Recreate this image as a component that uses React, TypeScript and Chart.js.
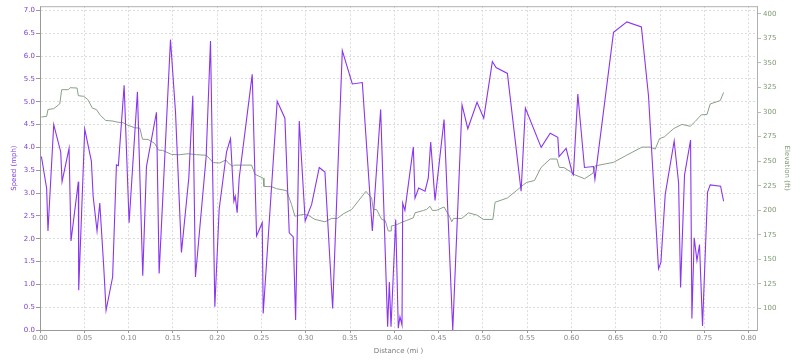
import React, { useEffect, useRef } from "react";
import { Chart, registerables } from "chart.js";

Chart.register(...registerables);

const speedDist = [
  0.0016, 0.0075, 0.009, 0.0155, 0.0234, 0.0249, 0.0328, 0.035, 0.0433, 0.0437,
  0.0505, 0.058, 0.06, 0.0644, 0.0675, 0.072, 0.0746, 0.082, 0.0863, 0.0885,
  0.095, 0.1006, 0.11, 0.116, 0.1202, 0.1315, 0.1345, 0.1473, 0.153, 0.1597,
  0.168, 0.1725, 0.1755, 0.1876, 0.1925, 0.1974, 0.2023, 0.2106, 0.2151, 0.2189,
  0.2204, 0.2226, 0.2249, 0.2396, 0.2445, 0.2509, 0.252, 0.2678, 0.2765, 0.2814,
  0.2859, 0.2886, 0.2927, 0.2994, 0.3067, 0.3153, 0.3217, 0.3304, 0.3413, 0.3526,
  0.3639, 0.3752, 0.3846, 0.3925, 0.3944, 0.3963, 0.4016, 0.4045, 0.4064, 0.4087,
  0.4095, 0.412, 0.4215, 0.4234, 0.4275, 0.4347, 0.4384, 0.4411, 0.446, 0.4562,
  0.466, 0.4765, 0.483, 0.4934, 0.501, 0.5107, 0.5149, 0.5277, 0.5432, 0.548,
  0.5658, 0.576, 0.5846, 0.586, 0.594, 0.6011, 0.6022, 0.6072, 0.6147, 0.6249,
  0.6265, 0.6475, 0.6626, 0.679, 0.687, 0.6983, 0.701, 0.7059, 0.716, 0.721,
  0.7232, 0.7277, 0.7345, 0.736, 0.7386, 0.7417, 0.7446, 0.748, 0.7537, 0.7567,
  0.7684, 0.7718,
];

const speedMph = [
  3.8, 3.1, 2.17, 4.5, 3.9, 3.25, 3.98, 1.95, 3.25, 0.87,
  4.4, 3.7, 2.93, 2.17, 2.78, 1.37, 0.43, 1.16, 3.62, 3.6,
  5.36, 2.35, 5.22, 1.19, 3.58, 4.77, 1.24, 6.36, 4.77, 1.7,
  3.33, 5.13, 1.16, 3.8, 6.33, 0.51, 2.65, 3.9, 4.19, 2.82,
  2.93, 2.57, 3.33, 5.6, 2.06, 2.35, 0.36, 5.01, 4.64, 2.13,
  2.04, 0.22, 4.58, 2.39, 2.75, 3.56, 3.46, 0.47, 6.12, 5.39,
  5.42, 2.17, 4.83, 0.07, 1.05, 0.07, 2.42, 0.04, 0.29, 0.11,
  2.78, 2.62, 4.01, 2.89, 3.11, 3.04, 3.33, 4.12, 2.84, 4.61,
  0.0, 4.93, 4.41, 4.99, 4.64, 5.88, 5.75, 5.62, 3.04, 4.86,
  4.0, 4.31, 4.22, 3.8, 3.98, 3.43, 3.4, 5.17, 3.56, 3.58,
  3.3, 6.52, 6.75, 6.64, 5.13, 1.34, 1.48, 2.97, 4.14, 3.22,
  0.93, 3.4, 4.16, 0.25, 2.02, 1.52, 1.87, 0.09, 3.02, 3.18,
  3.15, 2.82,
];

const elevDist = [
  0.0016, 0.0075, 0.009, 0.0155, 0.0223, 0.0245, 0.032, 0.034, 0.0418, 0.0433,
  0.0494, 0.054, 0.0592, 0.0637, 0.0682, 0.0742, 0.0825, 0.087, 0.0938, 0.0994,
  0.107, 0.1127, 0.1157, 0.122, 0.1296, 0.1338, 0.1383, 0.1485, 0.157, 0.1673,
  0.1767, 0.188, 0.1955, 0.203, 0.2098, 0.2136, 0.218, 0.2192, 0.2389, 0.2426,
  0.252, 0.2528, 0.2615, 0.2671, 0.2784, 0.284, 0.2878, 0.2972, 0.3028, 0.3104,
  0.3217, 0.3292, 0.3356, 0.3424, 0.3518, 0.3612, 0.368, 0.3744, 0.3763, 0.38,
  0.3858, 0.3898, 0.3932, 0.3963, 0.3966, 0.4018, 0.4057, 0.4091, 0.414, 0.4215,
  0.4234, 0.4328, 0.4366, 0.4403, 0.443, 0.4479, 0.4562, 0.463, 0.4649, 0.4668,
  0.4762, 0.4837, 0.4932, 0.5007, 0.5113, 0.5138, 0.5277, 0.5383, 0.5458, 0.5496,
  0.5582, 0.5658, 0.576, 0.5836, 0.5862, 0.5915, 0.5986, 0.6023, 0.6147, 0.6242,
  0.6268, 0.6475, 0.6626, 0.6796, 0.689, 0.6946, 0.6995, 0.7048, 0.7153, 0.7248,
  0.7342, 0.7398, 0.7466, 0.753, 0.7567, 0.768, 0.7718,
];

const elevFt = [
  295, 295.6, 302.6, 303.5, 308.3, 322.8, 322.8, 324.8, 324.5, 316.7,
  316, 312.7, 304, 302.6, 296.6, 291.5, 290.8, 289.8, 289.2, 286.5,
  284, 283.7, 272.4, 272.1, 268, 261.3, 261, 256.9, 256.5, 257.6,
  256.6, 256, 248.5, 248.2, 251.2, 247.2, 244.8, 246, 246, 236.7,
  232.7, 224.3, 224, 222, 220, 205.8, 194, 195.8, 195, 190.7,
  188.3, 191.7, 191.7, 196.4, 200.8, 211.5, 219.3, 212.5, 200.8, 200.8,
  190.7, 189.5, 178.9, 178.9, 184, 185, 186.6, 188, 189.7, 192.3,
  197.4, 199.8, 201, 204.1, 199.8, 200, 203.4, 192.3, 188.3, 191.7,
  191.7, 197.4, 195.1, 190.7, 190.7, 208.2, 212.5, 220.3, 226, 228.4,
  230.3, 243.7, 252.2, 252.2, 243.7, 243.5, 239.4, 236.7, 232.1, 237.7,
  245.2, 248.8, 256.2, 264.3, 264.3, 262.3, 273, 274.7, 283.1, 287.5,
  285.5, 290.5, 297.2, 297.5, 308.3, 311.7, 320,
];

const distTicks = [0, 0.05, 0.1, 0.15, 0.2, 0.25, 0.3, 0.35, 0.4, 0.45, 0.5, 0.55, 0.6, 0.65, 0.7, 0.75, 0.8];
const speedTicks = [0, 0.5, 1, 1.5, 2, 2.5, 3, 3.5, 4, 4.5, 5, 5.5, 6, 6.5, 7];
const elevTicks = [100, 125, 150, 175, 200, 225, 250, 275, 300, 325, 350, 375, 400];

const FONT = "'DejaVu Sans', Verdana, sans-serif";
const SPEED_COLOR = "#8a35ee";
const SPEED_TEXT = "#7a3fd8";
const ELEV_COLOR = "#88a088";
const ELEV_TEXT = "#7d9a72";
const AXIS_TEXT = "#8a8a8a";

export default function App() {
  const ref = useRef<HTMLCanvasElement>(null);

  useEffect(() => {
    document.body.style.margin = "0";
    const canvas = ref.current;
    if (!canvas) return;

    const frame = {
      id: "frame",
      beforeDatasetsDraw(chart: any) {
        const { ctx, chartArea: a } = chart;
        ctx.save();
        ctx.strokeStyle = "#b0b0b0";
        ctx.lineWidth = 1;
        ctx.beginPath();
        ctx.moveTo(a.left, a.top + 0.5);
        ctx.lineTo(a.right + 0.5, a.top + 0.5);
        ctx.lineTo(a.right + 0.5, a.bottom);
        ctx.stroke();
        ctx.restore();
      },
    };

    const chart = new Chart(canvas, {
      type: "line",
      data: {
        datasets: [
          {
            label: "Speed",
            data: speedDist.map((d, i) => ({ x: d, y: speedMph[i] })),
            borderColor: SPEED_COLOR,
            borderWidth: 1.1,
            pointRadius: 0,
            tension: 0,
            yAxisID: "y",
            order: 0,
          },
          {
            label: "Elevation",
            data: elevDist.map((d, i) => ({ x: d, y: elevFt[i] })),
            borderColor: ELEV_COLOR,
            borderWidth: 1,
            pointRadius: 0,
            tension: 0,
            yAxisID: "y1",
            order: 1,
          },
        ],
      },
      options: {
        responsive: false,
        animation: false,
        layout: { padding: { top: 3, left: 0, right: 0, bottom: 0 } },
        plugins: { legend: { display: false }, tooltip: { enabled: false } },
        scales: {
          x: {
            type: "linear",
            min: 0,
            max: 0.8095,
            afterBuildTicks: (s: any) => {
              s.ticks = distTicks.map((v) => ({ value: v }));
            },
            afterFit: (s: any) => {
              s.height = 30;
            },
            ticks: {
              color: AXIS_TEXT,
              font: { family: FONT, size: 7 },
              padding: 1,
              maxRotation: 0,
              autoSkip: false,
              callback: (v: any) => Number(v).toFixed(2),
            },
            grid: {
              color: "#dcdcdc",
              tickColor: "#999",
              tickLength: 3,
              tickBorderDash: [],
            },
            border: { color: "#999", dash: [2, 2] },
            title: {
              display: true,
              text: "Distance (mi )",
              color: "#7a7a7a",
              font: { family: FONT, size: 7 },
              padding: { top: 0, bottom: 5 },
            },
          },
          y: {
            type: "linear",
            position: "left",
            min: 0,
            max: 7.093,
            afterBuildTicks: (s: any) => {
              s.ticks = speedTicks.map((v) => ({ value: v }));
            },
            afterFit: (s: any) => {
              s.width = 40;
            },
            ticks: {
              color: SPEED_TEXT,
              font: { family: FONT, size: 7 },
              padding: 1,
              autoSkip: false,
              callback: (v: any) => Number(v).toFixed(1),
            },
            grid: {
              color: "#dcdcdc",
              tickColor: "#999",
              tickLength: 4,
              tickBorderDash: [],
            },
            border: { color: "#999", dash: [2, 2] },
            title: {
              display: true,
              text: "Speed (mph)",
              color: SPEED_TEXT,
              font: { family: FONT, size: 7 },
              padding: { top: 10, bottom: 0 },
            },
          },
          y1: {
            type: "linear",
            position: "right",
            min: 78.1,
            max: 407.8,
            afterBuildTicks: (s: any) => {
              s.ticks = elevTicks.map((v) => ({ value: v }));
            },
            afterFit: (s: any) => {
              s.width = 43;
            },
            ticks: {
              color: ELEV_TEXT,
              font: { family: FONT, size: 7 },
              padding: 2,
              autoSkip: false,
              callback: (v: any) => String(v),
            },
            grid: {
              drawOnChartArea: false,
              color: "#bbb",
              tickColor: "#bbb",
              tickLength: 4,
            },
            border: { color: "#b0b0b0" },
            title: {
              display: true,
              text: "Elevation (ft)",
              color: ELEV_TEXT,
              font: { family: FONT, size: 7 },
              padding: { top: 9, bottom: 0 },
            },
          },
        },
      },
      plugins: [frame],
    } as any);

    return () => chart.destroy();
  }, []);

  return (
    <div style={{ position: "absolute", left: 0, top: 0, width: 800, height: 360 }}>
      <canvas ref={ref} width={800} height={360} style={{ display: "block" }} />
    </div>
  );
}
